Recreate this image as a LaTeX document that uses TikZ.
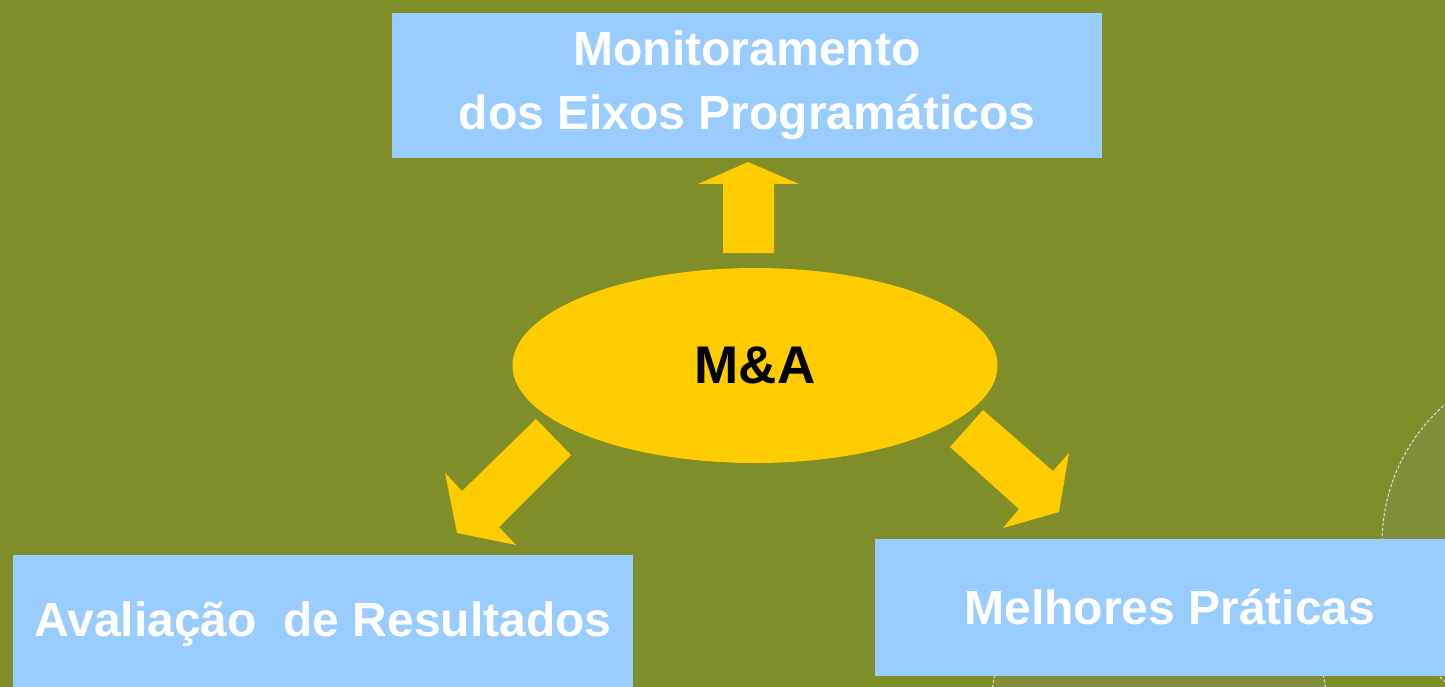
\documentclass[tikz,border=0pt]{standalone}
\usepackage{fontspec}
\setmainfont{Liberation Sans}
\usetikzlibrary{shapes.geometric}
\definecolor{olivebg}{RGB}{128,142,42}
\definecolor{olivefaint}{RGB}{128,143,58}
\definecolor{boxblue}{RGB}{153,204,255}
\definecolor{arrowgold}{RGB}{255,204,0}
\tikzset{
	box/.style={fill=boxblue, inner sep=0pt, align=center, text=white,
		font=\fontsize{48}{64}\selectfont\bfseries},
	blockarrow/.style={fill=arrowgold, draw=none},
}

\begin{document}
\begin{tikzpicture}[x=1pt, y=-1pt]
			%%%%% START %%%%%
			
			\useasboundingbox[fill=olivebg] (0, 0) rectangle (1445, 687);
			
			% faint circles behind the right box
			\draw[fill=olivefaint, draw=white!75!olivebg, densely dashed, line width=1pt] (1566, 543) circle (184);
			\draw[fill=olivefaint, draw=white!75!olivebg, densely dashed, line width=1pt] (1159, 710) circle (168);
			
			\node[box, minimum width=710pt, minimum height=145pt] (mon) at (747, 85.5) {Monitoramento\\dos Eixos Programáticos};
			\node[box, minimum width=620pt, minimum height=132pt] (aval) at (323, 621) {};
			\node[text=white, font=\fontsize{48}{64}\selectfont\bfseries] (avaltext) at (323, 624) {Avaliação\ \ de Resultados};
			\node[box, minimum width=590pt, minimum height=137pt] (melh) at (1170, 607.5) {Melhores Práticas};
			
			\node[ellipse, fill=arrowgold, inner sep=0pt, minimum width=485pt, minimum height=195pt,
				font=\fontsize{53}{60}\selectfont\bfseries] (ma) at (755, 365.5) {M\&A};
			
			% block arrows
			\draw[blockarrow] (723, 253) -- (723, 184) -- (698, 184) -- (748, 162) -- (799, 184) -- (774, 184) -- (774, 253) -- cycle;
			\draw[blockarrow] (536, 419) -- (571, 455) -- (499, 527) -- (516, 545) -- (457, 533) -- (445, 473) -- (462, 491) -- cycle;
			\draw[blockarrow] (983, 410) -- (1053, 471) -- (1069, 453) -- (1059, 512) -- (1003, 528) -- (1019, 509) -- (950, 447) -- cycle;
			
			%%%%% END %%%%%
		\end{tikzpicture}
\end{document}
